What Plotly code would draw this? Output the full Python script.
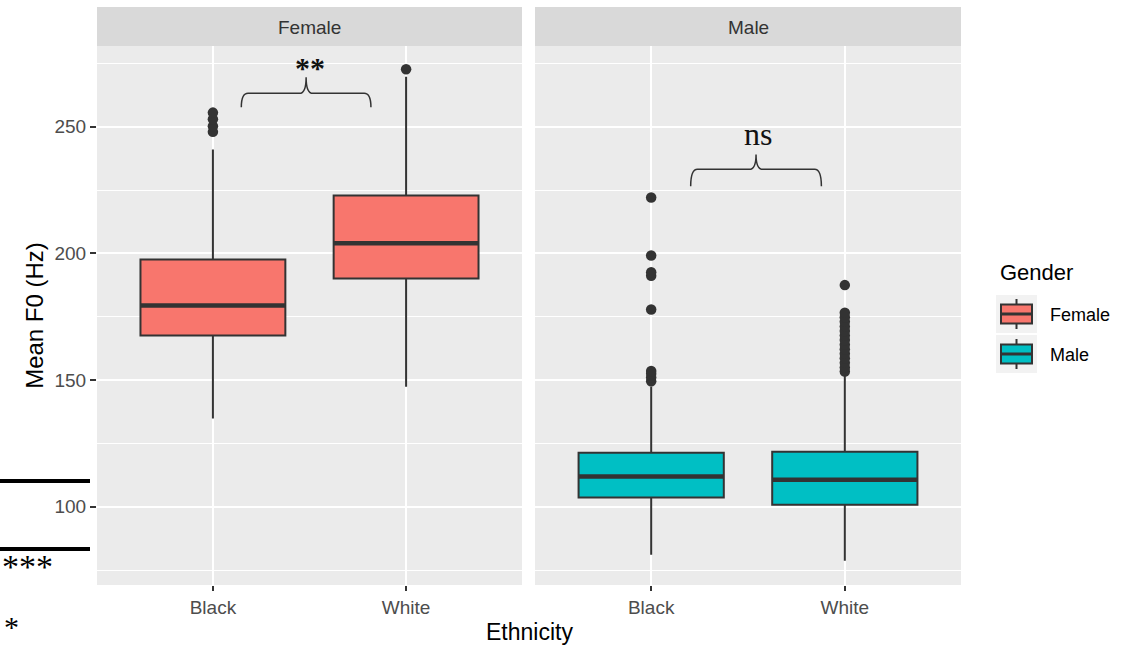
import plotly.graph_objects as go

W, H = 1122, 647

# ---------------- data ----------------
ethnicity = ["Black", "White"]
positions = [1, 2]
genders = ["Female", "Male"]
colors = {"Female": "#F8766D", "Male": "#00BFC4"}

q1 = {"Female": [167.6, 190.1], "Male": [103.6, 100.8]}
median = {"Female": [179.4, 204.0], "Male": [111.9, 110.7]}
q3 = {"Female": [197.6, 222.9], "Male": [121.3, 121.7]}
lower_whisker = {"Female": [134.8, 147.4], "Male": [81.0, 78.7]}
upper_whisker = {"Female": [241.0, 269.8], "Male": [147.5, 152.0]}
outliers = {
    "Female": [[248.0, 250.2, 253.0, 255.6], [272.7]],
    "Male": [[149.5, 151.0, 152.5, 153.6, 177.9, 191.2, 192.6, 199.2, 222.1],
             [153.4, 155.0, 156.8, 158.6, 160.4, 162.2, 164.0, 165.8, 167.6,
              169.4, 171.2, 173.0, 174.8, 176.6, 187.5]],
}

sig_labels = ["**", "ns"]
brace_x = [[1.147, 1.818], [1.204, 1.879]]
brace_level = [263.2, 233.2]
brace_tip = [269.6, 239.1]
brace_end = [257.7, 226.5]
label_x = [1.50, 1.553]
label_y = [273.5, 247.0]

y_ticks = [100, 150, 200, 250]
y_minor = [75, 125, 175, 225, 275]
y_range = [69.1, 281.9]
x_range = [0.4, 2.6]

# ---------------- helpers for layout positions ----------------
def px(x):
    return x / W


def py(y):
    return 1 - y / H


BOX_W = 0.75
OUT = "#333333"
FONT = "Liberation Sans, Arial, sans-serif"
SERIF = "Liberation Serif, Times New Roman, serif"

fig = go.Figure()

for gi, g in enumerate(genders):
    xa = "x" if gi == 0 else "x2"
    ya = "y" if gi == 0 else "y2"
    fig.add_trace(go.Box(
        x=positions, q1=q1[g], median=median[g], q3=q3[g],
        lowerfence=lower_whisker[g], upperfence=upper_whisker[g],
        width=BOX_W, fillcolor=colors[g], line=dict(color=OUT, width=2),
        whiskerwidth=0, boxpoints=False, name=g, showlegend=False,
        xaxis=xa, yaxis=ya, orientation="v",
    ))
    # thicker median line (ggplot fatten)
    mx, my = [], []
    for p, m in zip(positions, median[g]):
        mx += [p - BOX_W / 2, p + BOX_W / 2, None]
        my += [m, m, None]
    fig.add_trace(go.Scatter(x=mx, y=my, mode="lines",
                             line=dict(color=OUT, width=4.5),
                             showlegend=False, hoverinfo="skip",
                             xaxis=xa, yaxis=ya))
    # outliers
    ox, oy = [], []
    for p, vals in zip(positions, outliers[g]):
        ox += [p] * len(vals)
        oy += vals
    fig.add_trace(go.Scatter(x=ox, y=oy, mode="markers",
                             marker=dict(color=OUT, size=10.5),
                             showlegend=False, xaxis=xa, yaxis=ya))

shapes = []
annotations = []

# significance braces
for i, lab in enumerate(sig_labels):
    xr = "x" if i == 0 else "x2"
    yr = "y" if i == 0 else "y2"
    x0, x1 = brace_x[i]
    xm = (x0 + x1) / 2
    yl, yt, yb = brace_level[i], brace_tip[i], brace_end[i]
    rx = 0.035
    path = (f"M {x0},{yb} Q {x0},{yl} {x0 + rx},{yl} L {xm - rx},{yl} "
            f"Q {xm},{yl} {xm},{yt} Q {xm},{yl} {xm + rx},{yl} "
            f"L {x1 - rx},{yl} Q {x1},{yl} {x1},{yb}")
    shapes.append(dict(type="path", path=path, xref=xr, yref=yr,
                       line=dict(color="#333333", width=1.5), layer="above"))
    txt = f"<b>{lab}</b>" if i == 0 else lab
    annotations.append(dict(
        text=txt, x=label_x[i], y=label_y[i], xref=xr, yref=yr,
        showarrow=False, xanchor="center", yanchor="middle",
        font=dict(family=SERIF, size=30 if i == 0 else 32, color="#111111")))

# facet strips
panels = [(97, 522), (535, 961)]
for (l, r), g in zip(panels, genders):
    shapes.append(dict(type="rect", xref="paper", yref="paper",
                       x0=px(l), x1=px(r), y0=py(46), y1=py(7),
                       fillcolor="#D9D9D9", line=dict(width=0), layer="below"))
    annotations.append(dict(text=g, x=px((l + r) / 2), y=py(27),
                            xref="paper", yref="paper", showarrow=False,
                            xanchor="center", yanchor="middle",
                            font=dict(family=FONT, size=19, color="#333333")))

# x axis title shared by facets
annotations.append(dict(text="Ethnicity", x=px(529), y=py(632), xref="paper",
                        yref="paper", showarrow=False, xanchor="center",
                        yanchor="middle",
                        font=dict(family=FONT, size=23, color="#000000")))

# legend (ggplot style)
annotations.append(dict(text="Gender", x=px(998), y=py(272), xref="paper",
                        yref="paper", showarrow=False, xanchor="left",
                        yanchor="middle",
                        font=dict(family=FONT, size=22, color="#000000")))
key_tops = [295, 335]
for g, kt in zip(genders, key_tops):
    shapes.append(dict(type="rect", xref="paper", yref="paper",
                       x0=px(996), x1=px(1037), y0=py(kt + 38), y1=py(kt),
                       fillcolor="#F2F2F2", line=dict(width=0)))
    cx = 1016.5
    shapes.append(dict(type="line", xref="paper", yref="paper",
                       x0=px(cx), x1=px(cx), y0=py(kt + 4), y1=py(kt + 34),
                       line=dict(color=OUT, width=2)))
    shapes.append(dict(type="rect", xref="paper", yref="paper",
                       x0=px(1001), x1=px(1032), y0=py(kt + 28.5),
                       y1=py(kt + 9.5), fillcolor=colors[g],
                       line=dict(color=OUT, width=2)))
    shapes.append(dict(type="line", xref="paper", yref="paper",
                       x0=px(1001), x1=px(1032), y0=py(kt + 19),
                       y1=py(kt + 19), line=dict(color=OUT, width=3)))
    annotations.append(dict(text=g, x=px(1048), y=py(kt + 20), xref="paper",
                            yref="paper", showarrow=False, xanchor="left",
                            yanchor="middle",
                            font=dict(family=FONT, size=18, color="#000000")))

# cropped remnants at the left edge of the source image
for yy in [481, 549]:
    shapes.append(dict(type="line", xref="paper", yref="paper",
                       x0=0, x1=px(90), y0=py(yy), y1=py(yy),
                       line=dict(color="#000000", width=4)))
annotations.append(dict(text="***", x=0, y=py(566), xref="paper",
                        yref="paper", showarrow=False, xanchor="left",
                        yanchor="middle",
                        font=dict(family=SERIF, size=34, color="#000000")))
annotations.append(dict(text="*", x=px(2), y=py(626), xref="paper",
                        yref="paper", showarrow=False, xanchor="left",
                        yanchor="middle",
                        font=dict(family=SERIF, size=30, color="#000000")))

xaxis_common = dict(
    range=x_range, tickvals=positions, ticktext=ethnicity,
    showgrid=True, gridcolor="white", gridwidth=2, zeroline=False,
    ticks="outside", ticklen=5, tickwidth=1.5, tickcolor="#333333",
    tickfont=dict(family=FONT, size=19, color="#4D4D4D"),
    showline=False, fixedrange=True,
)
yaxis_common = dict(
    range=y_range, tickvals=y_ticks, showgrid=True, gridcolor="white",
    gridwidth=2.2, zeroline=False, ticklen=6, tickwidth=1.5,
    tickcolor="#333333", showline=False,
    tickfont=dict(family=FONT, size=19, color="#4D4D4D"),
    minor=dict(tickvals=y_minor, showgrid=True, gridcolor="white",
               gridwidth=1.2, ticks=""),
)

fig.update_layout(
    width=W, height=H,
    margin=dict(l=0, r=0, t=0, b=0),
    paper_bgcolor="white", plot_bgcolor="#EBEBEB",
    showlegend=False,
    xaxis=dict(domain=[px(97), px(522)], anchor="y", **xaxis_common),
    xaxis2=dict(domain=[px(535), px(961)], anchor="y2", **xaxis_common),
    yaxis=dict(domain=[py(585), py(46)], anchor="x", ticks="outside",
               title=dict(text="Mean F0 (Hz)", standoff=4,
                          font=dict(family=FONT, size=24, color="#000000")),
               automargin=False, **yaxis_common),
    yaxis2=dict(domain=[py(585), py(46)], anchor="x2", matches="y",
                showticklabels=False, ticks="", **yaxis_common),
    shapes=shapes, annotations=annotations,
    font=dict(family=FONT),
)

fig.write_html("out.html", config={"displayModeBar": False},
               post_script="document.body.style.margin='0';"
                           "document.body.style.padding='0';")
